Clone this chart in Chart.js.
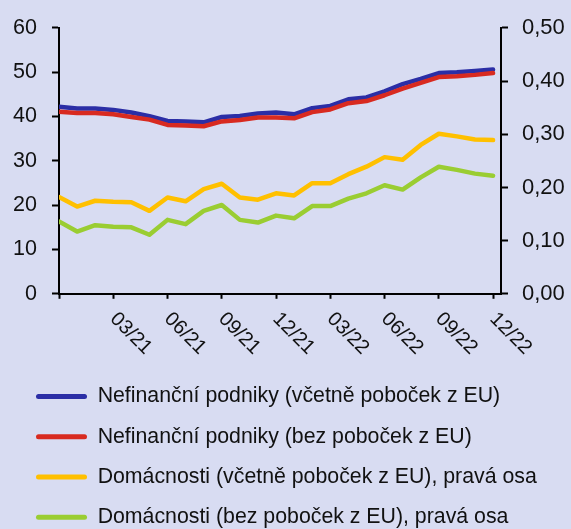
<!DOCTYPE html>
<html>
<head>
<meta charset="utf-8">
<script src="https://cdn.jsdelivr.net/npm/chart.js@4.4.1/dist/chart.umd.min.js"></script>
<style>
  html, body { margin: 0; padding: 0; background: #d8dcf2; }
  #wrap { width: 571px; height: 529px; }
</style>
</head>
<body>
<div id="wrap"><canvas id="chart"></canvas></div>
<script>
// mesíce 12/20 - 12/22
const months = ['12/20', '01/21', '02/21', '03/21', '04/21', '05/21', '06/21', '07/21', '08/21', '09/21', '10/21', '11/21', '12/21',
    '01/22', '02/22', '03/22', '04/22', '05/22', '06/22', '07/22', '08/22', '09/22', '10/22', '11/22', '12/22'];

// levá osa
const nfcWithEU = [42.2, 41.8, 41.8, 41.5, 40.9, 40.1, 39.0, 38.9, 38.7, 39.9, 40.1, 40.7, 40.9,
    40.5, 41.9, 42.4, 43.9, 44.3, 45.7, 47.3, 48.5, 49.8, 50.0, 50.3, 50.6];
const nfcNoEU = [41.1, 40.8, 40.8, 40.5, 39.9, 39.3, 38.1, 38.0, 37.8, 38.9, 39.2, 39.8, 39.8,
    39.6, 41.0, 41.6, 43.0, 43.5, 44.8, 46.3, 47.6, 48.9, 49.1, 49.4, 49.8];

// pravá osa
const hhWithEU = [0.182, 0.164, 0.175, 0.173, 0.172, 0.156, 0.181, 0.174, 0.197, 0.207, 0.181, 0.177, 0.189,
    0.185, 0.208, 0.208, 0.225, 0.239, 0.257, 0.252, 0.280, 0.301, 0.296, 0.290, 0.289];
const hhNoEU = [0.136, 0.117, 0.129, 0.126, 0.125, 0.111, 0.139, 0.131, 0.156, 0.167, 0.139, 0.134, 0.147,
    0.142, 0.165, 0.165, 0.179, 0.189, 0.204, 0.196, 0.219, 0.239, 0.233, 0.226, 0.222];

const xTicks = [0, 3, 6, 9, 12, 15, 18, 21, 24];
const leftTicks = [0, 10, 20, 30, 40, 50, 60];
const rightTicks = [0, 0.1, 0.2, 0.3, 0.4, 0.5];

const FONT = "'Liberation Sans', Arial, sans-serif";

function pts(arr) {
    return arr.map((v, i) => ({ x: i, y: v }));
}

function line(label, arr, color, axis, order) {
    return {
        label: label,
        data: pts(arr),
        yAxisID: axis,
        borderColor: color,
        backgroundColor: color,
        borderWidth: 4.5,
        pointRadius: 0,
        tension: 0,
        borderJoinStyle: 'round',
        borderCapStyle: 'round',
        order: order
    };
}

// popisky osy x pootočené o 45° doprava
const rotatedLabels = {
    id: 'rotatedLabels',
    afterLayout(chart) {
        // legenda začíná trochu vpravo od okraje
        chart.legend.left += 17;
        chart.legend.right += 17;
        chart.legend.top += 1;
    },
    afterDraw(chart) {
        const ctx = chart.ctx;
        const xs = chart.scales.x;
        ctx.save();
        ctx.font = '20px ' + FONT;
        ctx.fillStyle = '#111';
        ctx.textAlign = 'left';
        ctx.textBaseline = 'top';
        xTicks.forEach(v => {
            if (v === 0) return;
            const px = xs.getPixelForValue(v);
            ctx.save();
            ctx.translate(px + 7, chart.chartArea.bottom + 15);
            ctx.rotate(Math.PI / 4);
            ctx.fillText(months[v], 0, 0);
            ctx.restore();
        });
        ctx.restore();
    }
};

const axisStyle = {
    grid: { display: true, drawOnChartArea: false, drawTicks: true, tickLength: 7, tickColor: '#000', tickWidth: 2 },
    border: { display: true, color: '#000', width: 2 }
};

new Chart(document.getElementById('chart'), {
    type: 'line',
    data: {
        datasets: [
            line('Nefinanční podniky (včetně poboček z EU)', nfcWithEU, '#2b2ea6', 'y', 4),
            line('Nefinanční podniky (bez poboček z EU)', nfcNoEU, '#d82a20', 'y', 3),
            line('Domácnosti (včetně poboček z EU), pravá osa', hhWithEU, '#ffc000', 'y1', 2),
            line('Domácnosti (bez poboček z EU), pravá osa', hhNoEU, '#9acd32', 'y1', 1)
        ]
    },
    options: {
        responsive: true,
        maintainAspectRatio: false,
        animation: false,
        layout: { padding: { top: 25, left: 0, right: 0, bottom: -8 } },
        plugins: {
            tooltip: { enabled: false },
            legend: {
                position: 'bottom',
                align: 'start',
                labels: {
                    boxWidth: 51,
                    boxHeight: 5,
                    padding: 19,
                    color: '#111',
                    font: { family: FONT, size: 21.3 },
                    useBorderRadius: true,
                    borderRadius: 2.5,
                    sort: (a, b) => a.datasetIndex - b.datasetIndex,
                    generateLabels: chart => Chart.defaults.plugins.legend.labels.generateLabels(chart)
                        .map(l => ({ ...l, lineWidth: 0 }))
                }
            }
        },
        scales: {
            x: {
                type: 'linear',
                min: 0,
                max: 24.44,
                afterBuildTicks: s => { s.ticks = xTicks.map(v => ({ value: v })); },
                afterFit: s => { s.height = 72; },
                ticks: { display: false },
                grid: { display: true, drawOnChartArea: false, drawTicks: true, tickLength: 5, tickColor: '#000', tickWidth: 2 },
                border: { display: true, color: '#000', width: 2 }
            },
            y: {
                position: 'left',
                min: 0,
                max: 60,
                afterBuildTicks: s => { s.ticks = leftTicks.map(v => ({ value: v })); },
                afterFit: s => { s.width = 59; },
                ticks: { color: '#111', padding: 15, font: { family: FONT, size: 21.5 } },
                ...axisStyle
            },
            y1: {
                position: 'right',
                min: 0,
                max: 0.5,
                afterBuildTicks: s => { s.ticks = rightTicks.map(v => ({ value: v })); },
                afterFit: s => { s.width = 70; },
                ticks: {
                    color: '#111',
                    padding: 14,
                    font: { family: FONT, size: 22 },
                    callback: v => v.toFixed(2).replace('.', ',')
                },
                ...axisStyle
            }
        }
    },
    plugins: [rotatedLabels]
});
</script>
</body>
</html>
